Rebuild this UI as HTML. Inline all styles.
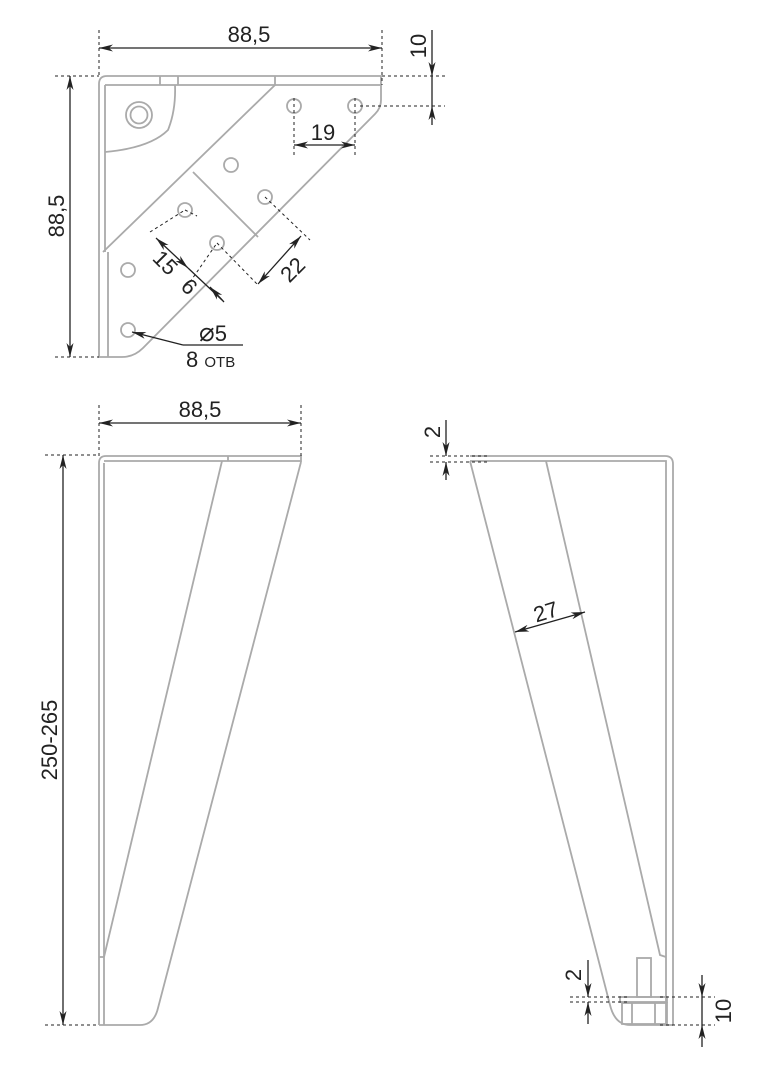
<!DOCTYPE html>
<html><head><meta charset="utf-8"><style>
html,body{margin:0;padding:0;background:#fff;}
svg{display:block;}
text{font-family:"Liberation Sans",sans-serif;fill:#222;}
</style></head><body>
<svg width="767" height="1066" viewBox="0 0 767 1066" xmlns="http://www.w3.org/2000/svg">
<defs>
<marker id="a" viewBox="0 0 14 7" refX="14" refY="3.5" markerWidth="14" markerHeight="7" orient="auto-start-reverse" markerUnits="userSpaceOnUse"><path d="M0,0 L14,3.5 L0,7 L4,3.5z" fill="#222"/></marker>
</defs>
<g fill="none" stroke="#aaa" stroke-width="1.8">
<path d="M99,357 L99,84 Q99,76 107,76 L381,76 L381,100 Q381,108 375,114 L143,348 Q134,357 122,357 Z"/>
<path d="M105,85 L381,85"/>
<path d="M105,85 L105,252 M108,252 L108,357"/>
<path d="M275,76 L275,85 L103,252"/>
<path d="M193,172 L258,237"/>
<path d="M105,152 Q150,148 168,130 Q176,110 175,85"/>
<path d="M160,76 L160,85 M178,76 L178,85"/>
<circle cx="139" cy="115" r="13"/><circle cx="139" cy="115" r="8.5"/>
<circle cx="294" cy="106" r="7"/><circle cx="355" cy="106" r="7"/>
<circle cx="231" cy="165" r="7"/><circle cx="265" cy="197" r="7"/>
<circle cx="185" cy="210" r="7"/><circle cx="217" cy="243" r="7"/>
<circle cx="128" cy="270" r="7"/><circle cx="128" cy="330" r="7"/>
<path d="M99,1025 L99,463 Q99,456 106,456 L301,456 L301,462"/>
<path d="M104,1025 L104,463 M104,461 L301,461"/>
<path d="M222,461 L104,957"/>
<path d="M228,461 L228,456"/>
<path d="M301,462 L158,1008 Q154,1025 140,1025 L99,1025"/>
<path d="M99,957 L104,957"/>
<path d="M470,456 L665,456 Q673,456 673,464 L673,1025"/>
<path d="M470,461 L666,461 L666,1025"/>
<path d="M470,461 L610,1005 Q615,1025 630,1025 L673,1025"/>
<path d="M546,461 L660,955 L666,957"/>
<rect x="637" y="958" width="14" height="39"/>
<rect x="620" y="997" width="47" height="5"/>
<rect x="622" y="1003" width="45" height="21"/>
<path d="M632,1003 L632,1024 M655,1003 L655,1024"/>
</g>
<g fill="none" stroke="#222" stroke-width="1" stroke-dasharray="3,3">
<path d="M99,30 L99,76 M382,30 L382,85 M55,76 L99,76 M55,357 L99,357 M382,76 L445,76 M360,106 L445,106"/>
<path d="M294,98 L294,155 M355,98 L355,155"/>
<path d="M150,232 L185,210 M185,210 L197,216 M217,243 L258,285 M265,197 L310,240 M190,282 L217,243"/>
<path d="M99,405 L99,456 M301,405 L301,456 M45,455 L99,455 M45,1025 L99,1025"/>
<path d="M430,456 L490,456 M430,462 L490,462"/>
<path d="M570,997 L630,997 M570,1002 L630,1002 M660,997 L715,997 M660,1025 L715,1025"/>
</g>
<g stroke="#222" stroke-width="1.3" fill="none">
<path d="M99,48 L382,48" marker-start="url(#a)" marker-end="url(#a)"/>
<path d="M70,76 L70,357" marker-start="url(#a)" marker-end="url(#a)"/>
<path d="M432,30 L432,76" marker-end="url(#a)"/><path d="M432,125 L432,106" marker-end="url(#a)"/><path d="M432,76 L432,106"/>
<path d="M294,145 L355,145" marker-start="url(#a)" marker-end="url(#a)"/>
<path d="M156,238 L188,268" marker-start="url(#a)" marker-end="url(#a)"/>
<path d="M188,268 L222,300"/><path d="M224,302 L210,287" marker-end="url(#a)"/>
<path d="M258,284 L301,236" marker-start="url(#a)" marker-end="url(#a)"/>
<path d="M183,345 L243,345" /><path d="M183,345 L132,332" marker-end="url(#a)"/>
<path d="M99,423 L301,423" marker-start="url(#a)" marker-end="url(#a)"/>
<path d="M63,455 L63,1025" marker-start="url(#a)" marker-end="url(#a)"/>
<path d="M446,420 L446,456" marker-end="url(#a)"/><path d="M446,480 L446,462" marker-end="url(#a)"/>
<path d="M515,632 L585,612" marker-start="url(#a)" marker-end="url(#a)"/>
<path d="M588,960 L588,997" marker-end="url(#a)"/><path d="M588,1024 L588,1002" marker-end="url(#a)"/>
<path d="M702,975 L702,997" marker-end="url(#a)"/><path d="M702,1047 L702,1025" marker-end="url(#a)"/><path d="M702,997 L702,1025"/>
</g>
<g font-size="22">
<text x="249" y="42" text-anchor="middle">88,5</text>
<text transform="translate(64,216) rotate(-90)" text-anchor="middle">88,5</text>
<text transform="translate(426,46) rotate(-90)" text-anchor="middle">10</text>
<text x="323" y="140" text-anchor="middle">19</text>
<text transform="translate(160,268) rotate(45)" text-anchor="middle">15</text>
<text transform="translate(184,292) rotate(45)" text-anchor="middle">6</text>
<text transform="translate(298,275) rotate(-45)" text-anchor="middle">22</text>
<text x="213" y="341" text-anchor="middle"><tspan font-size="26">⌀</tspan>5</text>
<text x="186" y="367">8 <tspan font-size="15">ОТВ</tspan></text>
<text x="200" y="417" text-anchor="middle">88,5</text>
<text transform="translate(57,740) rotate(-90)" text-anchor="middle">250-265</text>
<text transform="translate(440,432) rotate(-90)" text-anchor="middle">2</text>
<text transform="translate(548,619) rotate(-17)" text-anchor="middle">27</text>
<text transform="translate(581,975) rotate(-90)" text-anchor="middle">2</text>
<text transform="translate(731,1011) rotate(-90)" text-anchor="middle">10</text>
</g>
</svg>
</body></html>
